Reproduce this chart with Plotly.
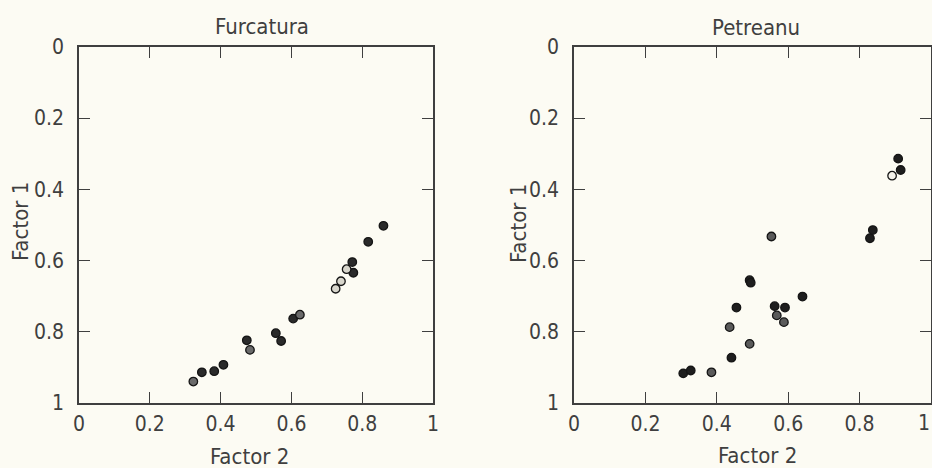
import plotly.graph_objects as go

W, H = 932, 468

# ---- data (Factor 2 = x, Factor 1 = y) ----
furc_dark_x = [0.347, 0.382, 0.408, 0.474, 0.556, 0.571, 0.605, 0.772, 0.775, 0.817, 0.860]
furc_dark_y = [0.915, 0.912, 0.894, 0.825, 0.805, 0.827, 0.764, 0.605, 0.635, 0.548, 0.503]
furc_grey_x = [0.323, 0.483, 0.624]
furc_grey_y = [0.941, 0.852, 0.753]
furc_open_x = [0.725, 0.740, 0.756]
furc_open_y = [0.680, 0.659, 0.625]

petr_dark_x = [0.306, 0.327, 0.441, 0.455, 0.492, 0.495, 0.562, 0.591, 0.640, 0.829, 0.837, 0.908, 0.915]
petr_dark_y = [0.918, 0.910, 0.874, 0.733, 0.656, 0.663, 0.729, 0.733, 0.702, 0.538, 0.515, 0.314, 0.346]
petr_grey_x = [0.385, 0.436, 0.492, 0.553, 0.568, 0.588]
petr_grey_y = [0.915, 0.788, 0.835, 0.533, 0.755, 0.774]
petr_open_x = [0.891]
petr_open_y = [0.362]

tick_vals = [0, 0.2, 0.4, 0.6, 0.8, 1]
tick_text = ["0", "0.2", "0.4", "0.6", "0.8", "1"]
titles = ["Furcatura", "Petreanu"]
x_title = "Factor 2"
y_title = "Factor 1"

FONT = "DejaVu Sans Condensed, Liberation Sans Narrow, Arial Narrow, sans-serif"
INK = "#3f3f3f"
BG = "#fcfbf3"

fig = go.Figure()

def add_sets(xa, ya, sets):
    for xs, ys, fill in sets:
        fig.add_trace(go.Scatter(
            x=xs, y=ys, mode="markers", xaxis=xa, yaxis=ya, showlegend=False,
            marker=dict(size=8.5, color=fill, line=dict(color="#151515", width=1.3)),
        ))

add_sets("x", "y", [(furc_dark_x, furc_dark_y, "#2a2a2a"),
                    (furc_grey_x, furc_grey_y, "#6a6a6a"),
                    (furc_open_x, furc_open_y, "#d8d6cc")])
add_sets("x2", "y2", [(petr_dark_x, petr_dark_y, "#1e1e1e"),
                      (petr_grey_x, petr_grey_y, "#5a5a5a"),
                      (petr_open_x, petr_open_y, "#f4f2ea")])

# pixel geometry
L1, R1 = 79, 433
L2, R2 = 574, 931
T, B = 47, 402.5
ydom = [1 - B / H, 1 - T / H]

axis_common = dict(
    range=[0, 1], tickvals=tick_vals, ticktext=tick_text, ticks="inside", ticklen=11,
    tickwidth=1.3, tickcolor=INK, showline=True, linecolor=INK, linewidth=1.5,
    mirror="ticks", showgrid=False, zeroline=False, automargin=False,
    tickfont=dict(family=FONT, size=21, color=INK),
)

fig.update_layout(
    width=W, height=H, margin=dict(l=0, r=0, t=0, b=0, autoexpand=False),
    paper_bgcolor=BG, plot_bgcolor=BG,
    xaxis=dict(domain=[L1 / W, R1 / W], anchor="y", ticklabelstandoff=2, **axis_common),
    yaxis=dict(domain=ydom, anchor="x", autorange=False, **{**axis_common, "range": [1, 0]},
               ticklabelstandoff=9),
    xaxis2=dict(domain=[L2 / W, R2 / W], anchor="y2", ticklabelstandoff=2, **axis_common),
    yaxis2=dict(domain=ydom, anchor="x2", autorange=False, **{**axis_common, "range": [1, 0]},
                ticklabelstandoff=9),
)

def ann(text, px, py, angle=0, size=22, xanchor="center"):
    fig.add_annotation(text=text, x=px / W, y=1 - py / H, xref="paper", yref="paper",
                       showarrow=False, textangle=angle, xanchor=xanchor, yanchor="middle",
                       font=dict(family=FONT, size=size, color=INK))

ann(titles[0], 262, 26)
ann(titles[1], 756, 27)
ann(x_title, 249, 456)
ann(x_title, 757, 455)
ann(y_title, 20, 222, -90)
ann(y_title, 518, 224, -90)
# right-most tick label of the second panel (sits at the page edge in the original)
ann(tick_text[-1], 932, 423, size=21, xanchor="right")

fig.write_html("out.html")
